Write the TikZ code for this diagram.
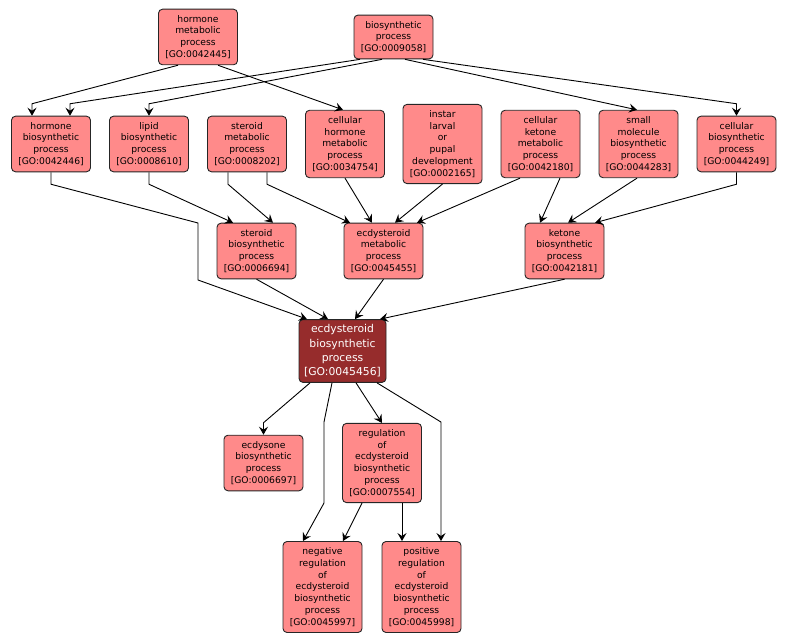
\documentclass[tikz,border=0pt]{standalone}
\usepackage{fontspec}
\usetikzlibrary{arrows.meta}
\newfontfamily\gofont{DejaVu Sans}
\definecolor{goterm}{RGB}{255,138,138}
\definecolor{goquery}{RGB}{150,44,44}

\begin{document}
\begin{tikzpicture}[x=1pt,y=-1pt,line width=0.9pt,
    term/.style={draw=black!85,fill=goterm,rounded corners=4pt,align=center,
      minimum width=79pt,inner xsep=1pt,inner ysep=6pt,
      font=\gofont\fontsize{9.2}{11.8}\selectfont},
    query/.style={term,fill=goquery,text=white,minimum width=87pt,inner ysep=5pt,
      font=\gofont\fontsize{10.8}{14.4}\selectfont},
    edge/.style={-{Stealth[length=8pt,width=9pt,inset=3pt]}}]
  \useasboundingbox (0,0) rectangle (789,644);

  % top row
  \node[term] (hmp) at (198,37)   {hormone\\metabolic\\process\\{}[GO:0042445]};
  \node[term] (bp)  at (393.5,37) {biosynthetic\\process\\{}[GO:0009058]};

  % second row
  \node[term] (hbp)  at (51,144)    {hormone\\biosynthetic\\process\\{}[GO:0042446]};
  \node[term] (lbp)  at (149,144)   {lipid\\biosynthetic\\process\\{}[GO:0008610]};
  \node[term] (smp)  at (247,144)   {steroid\\metabolic\\process\\{}[GO:0008202]};
  \node[term] (chmp) at (345,144)   {cellular\\hormone\\metabolic\\process\\{}[GO:0034754]};
  \node[term] (ilpd) at (442.5,144) {instar\\larval\\or\\pupal\\development\\{}[GO:0002165]};
  \node[term] (ckmp) at (540.5,144) {cellular\\ketone\\metabolic\\process\\{}[GO:0042180]};
  \node[term] (smbp) at (638.5,144) {small\\molecule\\biosynthetic\\process\\{}[GO:0044283]};
  \node[term] (cbp)  at (736.5,144) {cellular\\biosynthetic\\process\\{}[GO:0044249]};

  % third row
  \node[term] (sbp) at (256.5,251) {steroid\\biosynthetic\\process\\{}[GO:0006694]};
  \node[term] (emp) at (383.5,251) {ecdysteroid\\metabolic\\process\\{}[GO:0045455]};
  \node[term] (kbp) at (564.5,251) {ketone\\biosynthetic\\process\\{}[GO:0042181]};

  \node[query] (ebp) at (342.5,351) {ecdysteroid\\biosynthetic\\process\\{}[GO:0045456]};

  \node[term] (edp) at (263.5,463) {ecdysone\\biosynthetic\\process\\{}[GO:0006697]};
  \node[term] (reg) at (382,463)   {regulation\\of\\ecdysteroid\\biosynthetic\\process\\{}[GO:0007554]};

  \node[term] (neg) at (322.5,587) {negative\\regulation\\of\\ecdysteroid\\biosynthetic\\process\\{}[GO:0045997]};
  \node[term] (pos) at (421.5,587) {positive\\regulation\\of\\ecdysteroid\\biosynthetic\\process\\{}[GO:0045998]};

  % straight edges: from/to/shift at from/shift at to
  \foreach \a/\b/\p/\q in {hmp/chmp/20/-2, bp/smbp/11.5/-1.5, chmp/emp/0/-11.5,
      ilpd/emp/0/11.5, ckmp/emp/-20.5/33.5, ckmp/kbp/19.5/-24.5, smbp/kbp/-1.5/3.5,
      sbp/ebp/0/-14.5, emp/ebp/0/12.5, kbp/ebp/0/37.5, ebp/reg/13.5/0,
      reg/neg/-20/20.5, reg/pos/20/-19.5} {
    \draw[edge] ([xshift=\p]\a.south) -- ([xshift=\q]\b.north);
  }

  % bent edges
  \draw[edge] ([xshift=-20]hmp.south) -- ([xshift=-19,yshift=12]hbp.north) -- ([xshift=-19]hbp.north);
  \draw[edge] ([xshift=-33.5]bp.south) -- ([xshift=19,yshift=12]hbp.north) -- ([xshift=19]hbp.north);
  \draw[edge] ([xshift=-11.5]bp.south) -- ([yshift=12]lbp.north) -- (lbp.north);
  \draw[edge] ([xshift=29.5]bp.south) -- ([yshift=12]cbp.north) -- (cbp.north);
  \draw[edge] (hbp.south) -- ++(0,12) -- (198,223) -- (198,280) -- ([xshift=-35.5]ebp.north);
  \draw[edge] (lbp.south) -- ++(0,12) -- ([xshift=-23.5]sbp.north);
  \draw[edge] ([xshift=-19]smp.south) -- ++(0,12) -- ([xshift=16.5]sbp.north);
  \draw[edge] ([xshift=20]smp.south) -- ++(0,12) -- ([xshift=-33.5]emp.north);
  \draw[edge] (cbp.south) -- ++(0,12) -- ([xshift=30.5]kbp.north);
  \draw[edge] ([xshift=-32.5]ebp.south) -- ([yshift=12]edp.north) -- (edp.north);
  \draw[edge] ([xshift=-10.5]ebp.south) -- (324,422) -- (324,503) -- ([xshift=-19.5]neg.north);
  \draw[edge] ([xshift=34.5]ebp.south) -- ([xshift=19.5,yshift=119]pos.north) -- ([xshift=19.5]pos.north);
\end{tikzpicture}
\end{document}
